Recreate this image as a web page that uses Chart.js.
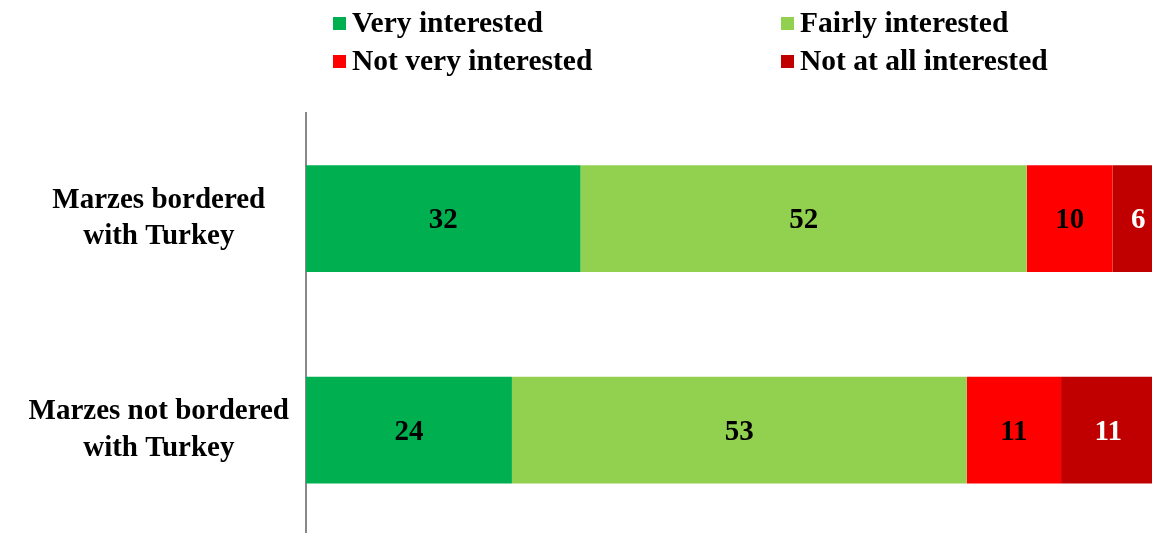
<!DOCTYPE html>
<html>
<head>
    <script src="https://cdn.jsdelivr.net/npm/chart.js@4/dist/chart.umd.min.js"></script>
    <style>
        html, body {
            margin: 0;
            padding: 0;
            overflow: hidden;
            background: #fff;
        }
        #chart {
            position: absolute;
            left: 0;
            top: 0;
        }
        #legend {
            position: absolute;
            left: 333px;
            top: 5px;
            width: 800px;
            font-family: "Liberation Serif", "Times New Roman", serif;
            font-weight: bold;
            font-size: 29.5px;
        }
        .item {
            position: absolute;
            white-space: nowrap;
            line-height: 34px;
        }
        .box {
            display: inline-block;
            width: 13px;
            height: 13px;
            margin-right: 6px;
            vertical-align: 2px;
        }
    </style>
</head>
<body>
<canvas id="chart" width="1152" height="581"></canvas>
<div id="legend"></div>
<script>
const categories = [['Marzes bordered', 'with Turkey'], ['Marzes not bordered', 'with Turkey']];
const seriesNames = ['Very interested', 'Fairly interested', 'Not very interested', 'Not at all interested'];
const veryInterested = [32, 24];
const fairlyInterested = [52, 53];
const notVeryInterested = [10, 11];
const notAtAllInterested = [6, 11];

const colors = ['#00B050', '#92D050', '#FF0000', '#C00000'];
const labelColors = ['#000', '#000', '#000', '#fff'];
const allValues = [veryInterested, fairlyInterested, notVeryInterested, notAtAllInterested];

// legend laid out 2x2 like the original
const legendPos = [[0, 0], [448, 0], [0, 38], [448, 38]];
const legendDiv = document.getElementById('legend');
seriesNames.forEach(function(name, i) {
    const d = document.createElement('div');
    d.className = 'item';
    d.style.left = legendPos[i][0] + 'px';
    d.style.top = legendPos[i][1] + 'px';
    d.innerHTML = '<span class="box" style="background:' + colors[i] + '"></span>' + name;
    legendDiv.appendChild(d);
});

// draw the value in the middle of each bar segment
const valueLabels = {
    id: 'valueLabels',
    afterDatasetsDraw(chart) {
        const ctx = chart.ctx;
        ctx.save();
        ctx.font = 'bold 29px "Liberation Serif", "Times New Roman", serif';
        ctx.textAlign = 'center';
        ctx.textBaseline = 'middle';
        chart.data.datasets.forEach(function(ds, i) {
            chart.getDatasetMeta(i).data.forEach(function(bar, j) {
                const p = bar.getCenterPoint();
                ctx.fillStyle = labelColors[i];
                ctx.fillText(ds.data[j], p.x, p.y + 2);
            });
        });
        ctx.restore();
    }
};

const ctx = document.getElementById('chart').getContext('2d');
const myChart = new Chart(ctx, {
    type: 'bar',
    data: {
        labels: categories,
        datasets: seriesNames.map(function(name, i) {
            return {
                label: name,
                data: allValues[i],
                backgroundColor: colors[i],
                borderWidth: 0,
                barPercentage: 0.505,
                categoryPercentage: 1
            };
        })
    },
    options: {
        indexAxis: 'y',
        responsive: false,
        animation: false,
        layout: {
            padding: { top: 113, right: 0, bottom: 0, left: 0 }
        },
        scales: {
            x: {
                stacked: true,
                min: 0,
                max: 98.6,
                display: false
            },
            y: {
                stacked: true,
                grid: { display: false },
                border: { display: true, color: '#888', width: 2 },
                ticks: {
                    color: '#000',
                    crossAlign: 'center',
                    padding: 9,
                    font: {
                        family: '"Liberation Serif", "Times New Roman", serif',
                        size: 29,
                        weight: 'bold',
                        lineHeight: 1.25
                    }
                },
                afterFit: function(scale) { scale.width = 306; }
            }
        },
        plugins: {
            legend: { display: false },
            tooltip: { enabled: false }
        }
    },
    plugins: [valueLabels]
});
</script>
</body>
</html>
